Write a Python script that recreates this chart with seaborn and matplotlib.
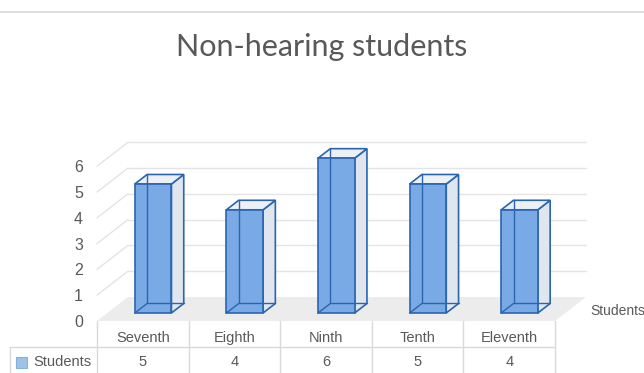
import matplotlib
matplotlib.use("Agg")
import matplotlib.pyplot as plt
import seaborn as sns
import pandas as pd
from matplotlib.patches import Polygon, Rectangle
from matplotlib.lines import Line2D
from matplotlib.transforms import Affine2D

# ---- data ----
categories = ["Seventh", "Eighth", "Ninth", "Tenth", "Eleventh"]
values = [5, 4, 6, 5, 4]
series_name = "Students"
title = "Non-hearing students"
yticks = [0, 1, 2, 3, 4, 5, 6]

# ---- style ----
sns.set_theme(style="white")
plt.rcParams["font.family"] = ["Liberation Sans", "DejaVu Sans"]
TEXT = "#595959"
FRONT = "#7aaae6"
EDGE = "#2a65b0"
SIDE = "#e0e6ed"
TOP = "#edf1f6"
FLOOR = "#ececec"
GRID = "#e4e4e4"
TABLE = "#d9d9d9"

W, H = 644, 373
fig = plt.figure(figsize=(W / 100, H / 100), dpi=100)
fig.patch.set_facecolor("white")

px_y = 25.8                      # pixels per value unit
ax_l, ax_r, ax_b = 97, 555, 321  # plot frame in pixels
ytop = 7.2
ax = fig.add_axes([ax_l / W, (H - ax_b) / H, (ax_r - ax_l) / W, ytop * px_y / H])
px_x = (ax_r - ax_l) / len(categories)

# depth projection (in data units for full depth)
DX = 31 / px_x
DY = 24 / px_y
d_front, d_back = 1 / 3, 0.73

df = pd.DataFrame({"Grade": categories, series_name: values})
sns.barplot(data=df, x="Grade", y=series_name, color=FRONT, saturation=1,
            width=0.4, edgecolor=EDGE, linewidth=1.2, ax=ax, zorder=3)
ax.set_xlim(-0.5, len(categories) - 0.5)
ax.set_ylim(0, ytop)

n = len(categories)
# floor
floor = Polygon([(-0.5, 0), (n - 0.5, 0), (n - 0.5 + DX, DY), (-0.5 + DX, DY)],
                closed=True, facecolor=FLOOR, edgecolor="none", zorder=0.5, clip_on=False)
ax.add_patch(floor)
# back wall + side wall gridlines
for v in yticks[1:]:
    ax.plot([-0.5 + DX, n - 0.5 + DX], [v + DY, v + DY], color=GRID, lw=1, zorder=0.6, clip_on=False)
    ax.plot([-0.5, -0.5 + DX], [v, v + DY], color=GRID, lw=1, zorder=0.6, clip_on=False)

fx, fy = DX * d_front, DY * d_front
bx, by = DX * d_back, DY * d_back
for p in list(ax.patches):
    if not isinstance(p, Rectangle):
        continue
    x0, w, h = p.get_x(), p.get_width(), p.get_height()
    p.set_transform(Affine2D().translate(fx, fy) + ax.transData)
    x1 = x0 + w
    side = Polygon([(x1 + fx, fy), (x1 + fx, h + fy), (x1 + bx, h + by), (x1 + bx, by)],
                   closed=True, facecolor=SIDE, edgecolor=EDGE, lw=1.2, zorder=2.5)
    top = Polygon([(x0 + fx, h + fy), (x1 + fx, h + fy), (x1 + bx, h + by), (x0 + bx, h + by)],
                  closed=True, facecolor=TOP, edgecolor=EDGE, lw=1.2, zorder=2.5)
    ax.add_patch(side)
    ax.add_patch(top)
    # edges seen through the translucent front
    ax.plot([x0 + bx, x0 + bx], [by, h + by], color=EDGE, lw=1.0, zorder=3.5)
    ax.plot([x0 + bx, x1 + bx], [by, by], color=EDGE, lw=1.0, zorder=3.5)
    ax.plot([x0 + fx, x0 + bx], [fy, by], color=EDGE, lw=1.0, zorder=3.5)

for s in ax.spines.values():
    s.set_visible(False)
ax.set_xticks([])
ax.set_xlabel("")
ax.set_ylabel("")
ax.set_yticks(yticks)
ax.set_yticklabels([str(t) for t in yticks])
ax.tick_params(axis="y", length=0, pad=10, labelsize=11.5, labelcolor=TEXT)
ax.set_facecolor("none")

# ---- data table ----
row1 = -26 / px_y
bottom = -60 / px_y
left = -0.5 - 87 / px_x
for k in range(n + 1):
    ax.plot([-0.5 + k, -0.5 + k], [0, bottom], color=TABLE, lw=1, clip_on=False, zorder=1)
ax.plot([left, n - 0.5], [row1, row1], color=TABLE, lw=1, clip_on=False, zorder=1)
ax.plot([left, left], [row1, bottom], color=TABLE, lw=1, clip_on=False, zorder=1)
for i, (c, v) in enumerate(zip(categories, values)):
    ax.text(i, -17 / px_y, c, ha="center", va="center", fontsize=10.5, color=TEXT)
    ax.text(i, -41 / px_y, str(v), ha="center", va="center", fontsize=10.5, color=TEXT)
ax.add_patch(Rectangle((-0.5 - 81 / px_x, -47 / px_y), 11 / px_x, 11 / px_y,
                       facecolor="#9dc3e6", edgecolor="#86b1df", lw=0.8, clip_on=False))
ax.text(-0.5 - 64 / px_x, -41 / px_y, series_name, ha="left", va="center",
        fontsize=10.5, color=TEXT)

# series (depth) axis label
ax.text(n - 0.5 + 35 / px_x, 10 / px_y, series_name, ha="left", va="center",
        fontsize=10, color=TEXT, clip_on=False)

# title and top border
fig.text(0.5, 1 - 47 / H, title, ha="center", va="center", fontsize=22,
         color=TEXT, family=["Lato", "DejaVu Sans"])
fig.add_artist(Line2D([0, 1], [1 - 12 / H, 1 - 12 / H], color="#d9d9d9", lw=1.2))

fig.savefig("out.png", dpi=100)
